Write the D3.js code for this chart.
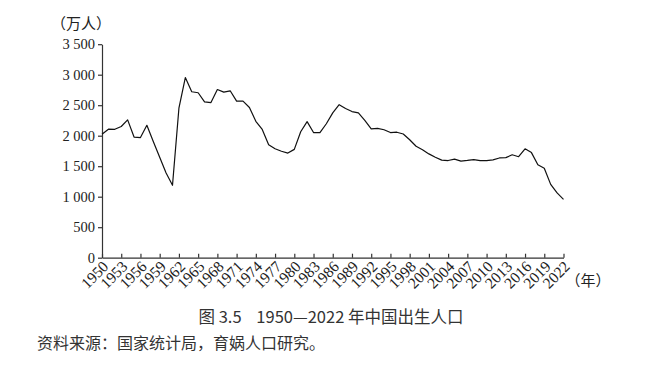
<!DOCTYPE html>
<html>
<head>
<meta charset="utf-8">
<script src="https://cdn.jsdelivr.net/npm/d3@7"></script>
<style>
  body { margin: 0; background: #fff; }
  .axis path, .axis line { stroke: #333; stroke-width: 1.2; }
  .axis text { font-family: "Liberation Serif", "DejaVu Serif", serif; font-size: 14.5px; fill: #222; }
  .xax text { font-size: 15.5px; }
</style>
</head>
<body>
<svg id="chart"></svg>
<script>
// years and births (万人)
var years = d3.range(1950, 2023);
var births = [2023, 2107, 2105, 2151, 2260, 1978, 1969, 2170, 1904, 1647,
  1389, 1187, 2451, 2954, 2721, 2704, 2554, 2543, 2757, 2715,
  2736, 2567, 2566, 2463, 2235, 2102, 1853, 1786, 1745, 1715,
  1776, 2064, 2230, 2052, 2050, 2196, 2374, 2508, 2445, 2396,
  2374, 2250, 2113, 2120, 2098, 2052, 2057, 2028, 1934, 1827,
  1771, 1702, 1647, 1599, 1593, 1617, 1584, 1594, 1608, 1591,
  1592, 1604, 1635, 1640, 1687, 1655, 1786, 1723, 1523, 1465,
  1202, 1062, 956];
var xTicks = d3.range(1950, 2023, 3);
var yTicks = [0, 500, 1000, 1500, 2000, 2500, 3000, 3500];

var W = 656, H = 370;
var svg = d3.select("#chart").attr("width", W).attr("height", H);

var x = d3.scaleLinear().domain([1950, 2022]).range([102, 563.5]);
var y = d3.scaleLinear().domain([0, 3500]).range([257.7, 44.2]);

var fmt = function(d) { return d3.format(",")(d).replace(",", " "); };

svg.append("g")
  .attr("class", "axis")
  .attr("transform", "translate(102,0)")
  .call(d3.axisLeft(y).tickValues(yTicks).tickFormat(fmt).tickSizeInner(4).tickSizeOuter(0).tickPadding(3));

var gx = svg.append("g")
  .attr("class", "axis xax")
  .attr("transform", "translate(0,257.7)")
  .call(d3.axisBottom(x).tickValues(xTicks).tickFormat(d3.format("d")).tickSizeInner(-4).tickSizeOuter(0));

gx.selectAll("text")
  .attr("x", 0).attr("y", 0)
  .attr("dy", "0.35em")
  .attr("text-anchor", "end")
  .attr("transform", "translate(3,6) rotate(-45)");

var line = d3.line()
  .x(function(d, i) { return x(years[i]); })
  .y(function(d) { return y(d); });

svg.append("path")
  .datum(births)
  .attr("fill", "none")
  .attr("stroke", "#111")
  .attr("stroke-width", 1.2)
  .attr("stroke-linejoin", "round")
  .attr("d", line);

// unit labels
svg.append("text")
  .attr("x", 81).attr("y", 29)
  .attr("text-anchor", "middle")
  .style("font-family", "'Noto Sans CJK SC', serif")
  .style("font-size", "15px")
  .style("fill", "#222")
  .text("（万人）");

svg.append("text")
  .attr("x", 588).attr("y", 286)
  .attr("text-anchor", "middle")
  .style("font-family", "'Noto Sans CJK SC', serif")
  .style("font-size", "15px")
  .style("fill", "#222")
  .text("（年）");

// caption
svg.append("text")
  .attr("x", 331).attr("y", 322.5)
  .attr("text-anchor", "middle")
  .style("font-family", "'Noto Sans CJK SC', sans-serif")
  .style("font-size", "16.5px")
  .style("fill", "#333")
  .text("图 3.5\u00a0\u00a0\u00a0 1950—2022 年中国出生人口");

svg.append("text")
  .attr("x", 37).attr("y", 349)
  .style("font-family", "'Noto Sans CJK SC', sans-serif")
  .style("font-size", "16px")
  .style("fill", "#333")
  .text("资料来源：国家统计局，育娲人口研究。");
</script>
</body>
</html>
